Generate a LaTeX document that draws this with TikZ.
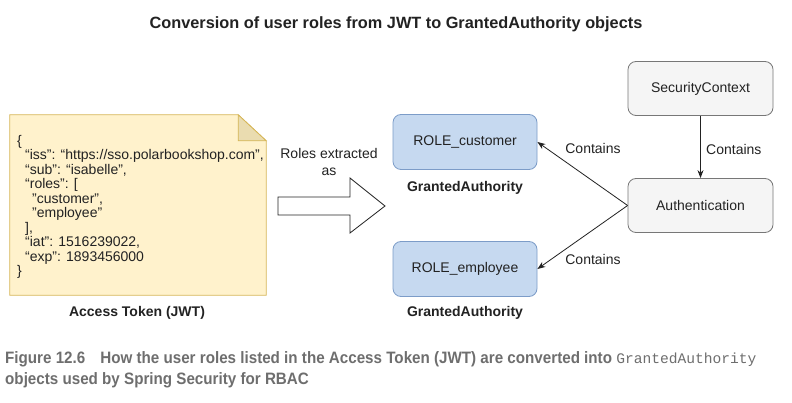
\documentclass[tikz,border=0pt]{standalone}
\usepackage{fontspec}
\setmainfont{Liberation Sans}
\newfontfamily\capfont[FakeStretch=0.92]{Liberation Sans}
\newfontfamily\capmono{Liberation Mono}
\usetikzlibrary{arrows.meta}
\definecolor{notefill}{HTML}{FFF2CC}
\definecolor{notedraw}{HTML}{D6B656}
\definecolor{foldfill}{HTML}{EADCB0}
\definecolor{bluefill}{HTML}{C6D9F0}
\definecolor{bluedraw}{HTML}{7C9CC8}
\definecolor{greyfill}{HTML}{F5F5F5}
\definecolor{greydraw}{HTML}{777777}
\definecolor{txt}{HTML}{222222}
\definecolor{captxt}{HTML}{6E6E6E}
\tikzset{
  rolebox/.style={draw=bluedraw, fill=bluefill, rounded corners=8pt, minimum width=144pt, minimum height=55pt, font=\fontsize{14}{16}\selectfont, text=txt, line width=0.8pt},
  greybox/.style={draw=greydraw, fill=greyfill, rounded corners=8pt, minimum width=145pt, minimum height=54pt, font=\fontsize{14}{16}\selectfont, text=txt, line width=0.8pt},
  boldlabel/.style={font=\bfseries\fontsize{14}{16}\selectfont, text=txt},
  plainlabel/.style={font=\fontsize{14}{17}\selectfont, text=txt, align=center},
  conn/.style={draw=txt, line width=0.8pt, -{Stealth[length=8pt,width=6pt]}},
}
\begin{document}
\begin{tikzpicture}[x=1pt,y=-1pt]
\useasboundingbox[fill=white] (0,0) rectangle (792,403);

% title
\node[font=\bfseries\fontsize{16.3}{19}\selectfont, text=txt] (title) at (396,24) {Conversion of user roles from JWT to GrantedAuthority objects};

% JWT note
\node[minimum width=256pt, minimum height=180pt, inner sep=0pt] (jwt) at (138,205) {};
\draw[draw=notedraw, fill=notefill, line width=0.8pt]
  (jwt.north west) -- ([xshift=-28pt]jwt.north east) -- ([yshift=-26pt]jwt.north east) -- (jwt.south east) -- (jwt.south west) -- cycle;
\draw[draw=notedraw, fill=foldfill, line width=0.8pt]
  ([xshift=-28pt]jwt.north east) -- ([xshift=-28pt,yshift=-26pt]jwt.north east) -- ([yshift=-26pt]jwt.north east) -- cycle;
\node[anchor=north west, font=\fontsize{14}{14.5}\selectfont, text=txt, align=left, inner sep=0pt] (json) at (17,135) {%
\{\\
\hspace*{8pt}“iss”: “https://sso.polarbookshop.com”,\\
\hspace*{8pt}“sub”: “isabelle”,\\
\hspace*{8pt}“roles”: [\\
\hspace*{15pt}"customer",\\
\hspace*{15pt}"employee"\\
\hspace*{8pt}],\\
\hspace*{8pt}“iat”: 1516239022,\\
\hspace*{8pt}“exp”: 1893456000\\
\}};
\node[boldlabel] (jwtlabel) at (137,313) {Access Token (JWT)};

% block arrow
\draw[draw=txt, fill=white, line width=0.8pt]
  (278,197) -- (350,197) -- (350,178) -- (385,206) -- (350,233) -- (350,215) -- (278,215) -- cycle;
\node[plainlabel] (extr) at (329,162) {Roles extracted\\as};

% role boxes
\node[rolebox] (cust) at (465,142) {ROLE\_customer};
\node[boldlabel] (ga1) at (465,188) {GrantedAuthority};
\node[rolebox] (emp) at (465,269) {ROLE\_employee};
\node[boldlabel] (ga2) at (465,313) {GrantedAuthority};

% grey boxes
\node[greybox] (sec) at (700.5,88.5) {SecurityContext};
\node[greybox] (auth) at (700.5,205.5) {Authentication};

% connectors
\draw[conn] (sec) -- (auth) node[midway, right=2pt, plainlabel, yshift=-2pt] (c0) {Contains};
\draw[conn] (auth.west) -- (cust.east);
\draw[conn] (auth.west) -- (emp.east);
\node[plainlabel] (c1) at (593,148) {Contains};
\node[plainlabel] (c2) at (593,259) {Contains};

% caption
\node[anchor=base west, inner sep=0pt, text=captxt, font=\capfont\bfseries\fontsize{16.5}{19}\selectfont] (cap1) at (5,363)
  {Figure 12.6\hspace{15pt}How the user roles listed in the Access Token (JWT) are converted into {\capmono\mdseries\fontsize{14.6}{19}\selectfont GrantedAuthority}};
\node[anchor=base west, inner sep=0pt, text=captxt, font=\capfont\bfseries\fontsize{16.5}{19}\selectfont] (cap2) at (5,384)
  {objects used by Spring Security for RBAC};
\end{tikzpicture}
\end{document}
